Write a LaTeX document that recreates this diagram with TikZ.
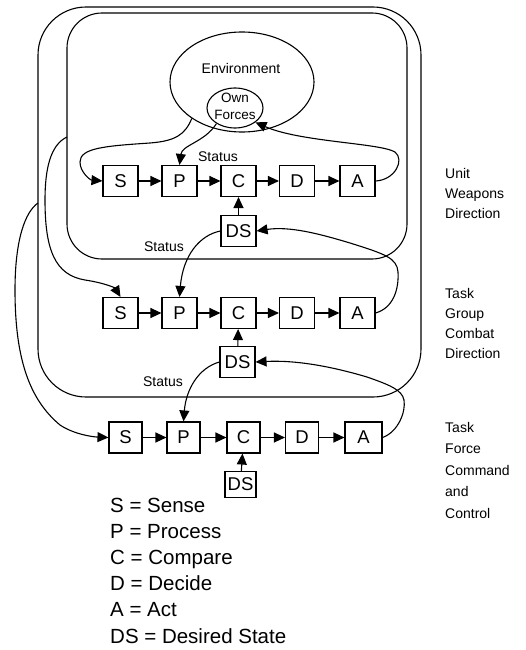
\documentclass[tikz,border=0pt]{standalone}
\usepackage{fontspec}
\setmainfont{Liberation Sans}
\usetikzlibrary{arrows.meta,shapes.geometric}
\begin{document}
\begin{tikzpicture}[x=1pt,y=-1pt,
  blk/.style={draw, line width=1.1pt, minimum width=35pt, minimum height=31pt, inner sep=0pt, font=\fontsize{18.5}{20}\selectfont},
  arr/.style={line width=1.1pt, -{Triangle[length=11pt,width=10pt]}},
  frame/.style={draw, line width=1.1pt},
  lbl/.style={inner sep=0pt, font=\fontsize{14}{16}\selectfont},
  side/.style={inner sep=0pt, anchor=north west, align=left},
]
\useasboundingbox (0,0) rectangle (526,650);

% frames
\draw[frame, rounded corners=48pt] (38,7) rectangle (421,397);
\draw[frame, rounded corners=35pt] (67,13) rectangle (407,259);
\coordinate (innerL) at (67,137);
\coordinate (outerL) at (38,203);

% environment
\node[draw, ellipse, line width=1.1pt, minimum width=144pt, minimum height=100pt, inner sep=0pt] (env) at (242,82) {};
\node[lbl] (envt) at (241,68) {Environment};
\node[draw, ellipse, line width=1.1pt, minimum width=56pt, minimum height=40pt, inner sep=0pt] (own) at (235,108) {};
\node[lbl, align=center, font=\fontsize{13.5}{17}\selectfont] (ownt) at (235,106.5) {Own\\Forces};

% level 1
\node[blk] (S1) at (120.5,181) {S};
\node[blk] (P1) at (179.5,181) {P};
\node[blk] (C1) at (238.5,181) {C};
\node[blk] (D1) at (297,181) {D};
\node[blk] (A1) at (357.5,181) {A};
\node[blk] (DS1) at (238.5,231) {DS};

% level 2
\node[blk] (S2) at (120.5,313) {S};
\node[blk] (P2) at (179.5,313) {P};
\node[blk] (C2) at (238.5,313) {C};
\node[blk] (D2) at (297,313) {D};
\node[blk] (A2) at (357.5,313) {A};
\node[blk] (DS2) at (237.5,362) {DS};

% level 3
\node[blk, minimum width=33pt] (S3) at (125.5,437.5) {S};
\node[blk, minimum width=33pt] (P3) at (183.5,437.5) {P};
\node[blk, minimum width=33pt] (C3) at (243.5,437.5) {C};
\node[blk, minimum width=33pt] (D3) at (302,437.5) {D};
\node[blk, minimum width=37pt] (A3) at (363.5,437.5) {A};
\node[blk, minimum width=31pt, minimum height=26pt] (DS3) at (240.5,484.5) {DS};

% chain arrows
\foreach \l in {1,2,3}{
  \draw[arr] (S\l) -- (P\l);
  \draw[arr] (P\l) -- (C\l);
  \draw[arr] (C\l) -- (D\l);
  \draw[arr] (D\l) -- (A\l);
  \draw[arr] (DS\l) -- (C\l);
}

% status labels
\node[lbl] (st1) at (218,157) {Status};
\node[lbl] (st2) at (164,247) {Status};
\node[lbl] (st3) at (163,382) {Status};

% level 1 loops
\draw[arr] (env.216) .. controls (185,135) and (175,141) .. (150,143)
  .. controls (105,146) and (80,148) .. (80,162)
  .. controls (80,172) and (90,180) .. (S1.west);
\draw[arr] (own.220) .. controls (205,142) and (182,145) .. (P1.north);
\draw[arr] (A1.east) .. controls (395,180) and (405,160) .. (395,152)
  .. controls (380,143) and (300,142) .. (own.-35);

% level 2 loops
\draw[arr] (DS1.west) .. controls (200,235) and (183,255) .. (P2.north);
\draw[arr] (A2.east) .. controls (393,308) and (399,290) .. (398,272)
  .. controls (397,258) and (385,254) .. (350,243)
  .. controls (320,234) and (290,226) .. (DS1.east);
\draw[arr] (innerL) .. controls (50,145) and (45,170) .. (45,200)
  .. controls (45,250) and (55,275) .. (85,280)
  .. controls (105,283) and (115,288) .. (S2.north);

% level 3 loops
\draw[arr] (DS2.west) .. controls (198,368) and (186,390) .. (P3.north);
\draw[arr] (A3.east) .. controls (398,432) and (406,412) .. (404,400)
  .. controls (402,390) and (390,385) .. (367,377)
  .. controls (330,366) and (295,360) .. (DS2.east);
\draw[arr] (outerL) .. controls (25,212) and (15,240) .. (15,290)
  .. controls (15,360) and (30,400) .. (60,425)
  .. controls (75,435) and (95,437) .. (S3.west);

% side labels
\node[side, font=\fontsize{14}{20}\selectfont] (lab1) at (445,168) {Unit\\Weapons\\Direction};
\node[side, font=\fontsize{14}{20}\selectfont] (lab2) at (445,288) {Task\\Group\\Combat\\Direction};
\node[side, font=\fontsize{14}{21.5}\selectfont] (lab3) at (445,422) {Task\\Force\\Command\\and\\Control};

% legend
\node[side, font=\fontsize{20.5}{26.1}\selectfont] (legend) at (110,498) {S = Sense\\P = Process\\C = Compare\\D = Decide\\A = Act\\DS = Desired State};
\end{tikzpicture}
\end{document}
